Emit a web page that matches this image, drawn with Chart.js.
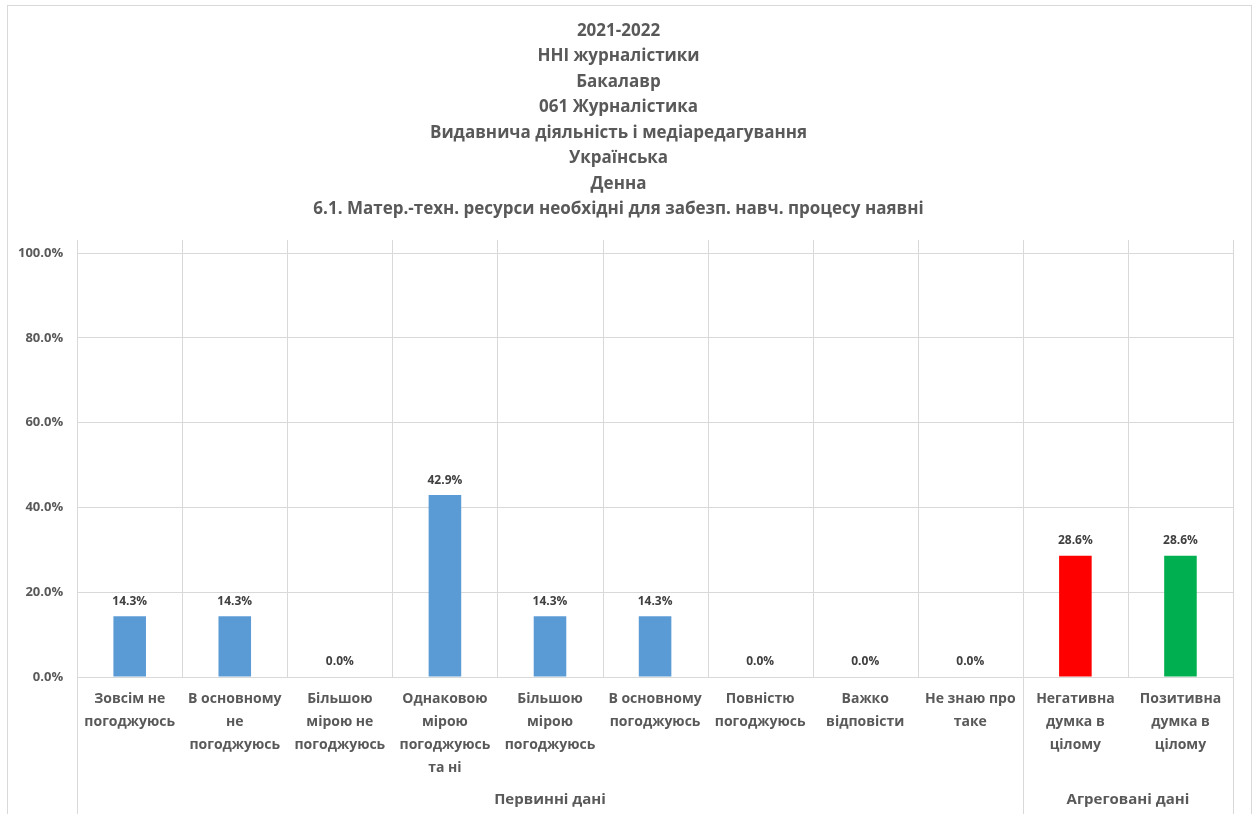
<!DOCTYPE html>
<html>
<head>
<meta charset="utf-8">
<script src="https://cdn.jsdelivr.net/npm/chart.js@4"></script>
<style>
  html, body { margin: 0; padding: 0; background: #fff; overflow: hidden; }
  #wrap { width: 1259px; height: 814px; }
</style>
</head>
<body>
<div id="wrap"><canvas id="chartSurvey"></canvas></div>
<script>
// DATA
const titleLines = [
  '2021-2022',
  'ННІ журналістики',
  'Бакалавр',
  '061 Журналістика',
  'Видавнича діяльність і медіаредагування',
  'Українська',
  'Денна',
  '6.1. Матер.-техн. ресурси необхідні для забезп. навч. процесу наявні'
];
const categories = [
  ['Зовсім не', 'погоджуюсь'],
  ['В основному', 'не', 'погоджуюсь'],
  ['Більшою', 'мірою не', 'погоджуюсь'],
  ['Однаковою', 'мірою', 'погоджуюсь', 'та ні'],
  ['Більшою', 'мірою', 'погоджуюсь'],
  ['В основному', 'погоджуюсь'],
  ['Повністю', 'погоджуюсь'],
  ['Важко', 'відповісти'],
  ['Не знаю про', 'таке'],
  ['Негативна', 'думка в', 'цілому'],
  ['Позитивна', 'думка в', 'цілому']
];
const values = [14.3, 14.3, 0.0, 42.9, 14.3, 14.3, 0.0, 0.0, 0.0, 28.6, 28.6];
const barColors = ['#5B9BD5', '#5B9BD5', '#5B9BD5', '#5B9BD5', '#5B9BD5', '#5B9BD5',
                   '#5B9BD5', '#5B9BD5', '#5B9BD5', '#FF0000', '#00B050'];
const groups = [
  { label: 'Первинні дані', from: 0, to: 9 },
  { label: 'Агреговані дані', from: 9, to: 11 }
];
const yTicks = [0, 20, 40, 60, 80, 100];

const FONT = "'Open Sans', sans-serif";
const TEXT = '#595959';
const GRID = '#D9D9D9';

// frame, category separators, value labels, group labels
const excelDecor = {
  id: 'excelDecor',
  beforeDraw(chart) {
    const ctx = chart.ctx;
    ctx.save();
    ctx.strokeStyle = GRID;
    ctx.lineWidth = 1;
    ctx.strokeRect(7.5, 5.5, chart.width - 15, chart.height + 20);
    ctx.restore();
  },
  afterDraw(chart) {
    const ctx = chart.ctx;
    const area = chart.chartArea;
    const x = chart.scales.x;
    const n = categories.length;
    const step = (x.right - x.left) / n;
    const edges = [0];
    groups.forEach(g => edges.push(g.to));

    ctx.save();
    ctx.strokeStyle = GRID;
    ctx.lineWidth = 1;
    for (let i = 0; i <= n; i++) {
      const px = Math.round(x.left + i * step) + 0.5;
      const bottom = edges.includes(i) ? chart.height : area.bottom;
      ctx.beginPath();
      ctx.moveTo(px, area.top - 13);
      ctx.lineTo(px, bottom);
      ctx.stroke();
    }

    // group labels
    ctx.fillStyle = TEXT;
    ctx.font = 'bold 15px ' + FONT;
    ctx.textAlign = 'center';
    ctx.textBaseline = 'middle';
    groups.forEach(g => {
      const cx = x.left + (g.from + g.to) / 2 * step;
      ctx.fillText(g.label, cx, chart.height - 14);
    });

    // value labels
    const meta = chart.getDatasetMeta(0);
    ctx.font = 'bold 12px ' + FONT;
    ctx.fillStyle = '#404040';
    ctx.textBaseline = 'bottom';
    meta.data.forEach((bar, i) => {
      ctx.fillText(values[i].toFixed(1) + '%', bar.x, bar.y - 9);
    });
    ctx.restore();
  }
};

document.addEventListener('DOMContentLoaded', function() {
  Chart.defaults.font.family = FONT;
  Chart.defaults.color = TEXT;

  new Chart(document.getElementById('chartSurvey'), {
    type: 'bar',
    data: {
      labels: categories,
      datasets: [{
        data: values,
        backgroundColor: barColors,
        barPercentage: 0.31,
        categoryPercentage: 1.0
      }]
    },
    options: {
      responsive: true,
      maintainAspectRatio: false,
      animation: false,
      layout: { padding: { left: 4, right: 26, top: 0, bottom: 0 } },
      plugins: {
        legend: { display: false },
        tooltip: { enabled: false },
        title: {
          display: true,
          text: titleLines,
          color: TEXT,
          font: { size: 17, weight: 'bold', lineHeight: 1.5 },
          padding: { top: 18, bottom: 31 }
        }
      },
      scales: {
        y: {
          min: 0,
          max: 100,
          afterBuildTicks: function(scale) {
            scale.ticks = yTicks.map(v => ({ value: v }));
          },
          grid: { color: GRID, drawTicks: false },
          border: { display: false },
          ticks: {
            padding: 14,
            font: { size: 13, weight: 'bold' },
            callback: function(value) { return value.toFixed(1) + '%'; }
          }
        },
        x: {
          afterFit: function(scale) { scale.height = 137; },
          grid: { display: false },
          border: { display: false },
          ticks: {
            autoSkip: false,
            maxRotation: 0,
            padding: 2,
            font: { size: 14, weight: 'bold', lineHeight: 1.65 }
          }
        }
      }
    },
    plugins: [excelDecor]
  });
});
</script>
</body>
</html>
